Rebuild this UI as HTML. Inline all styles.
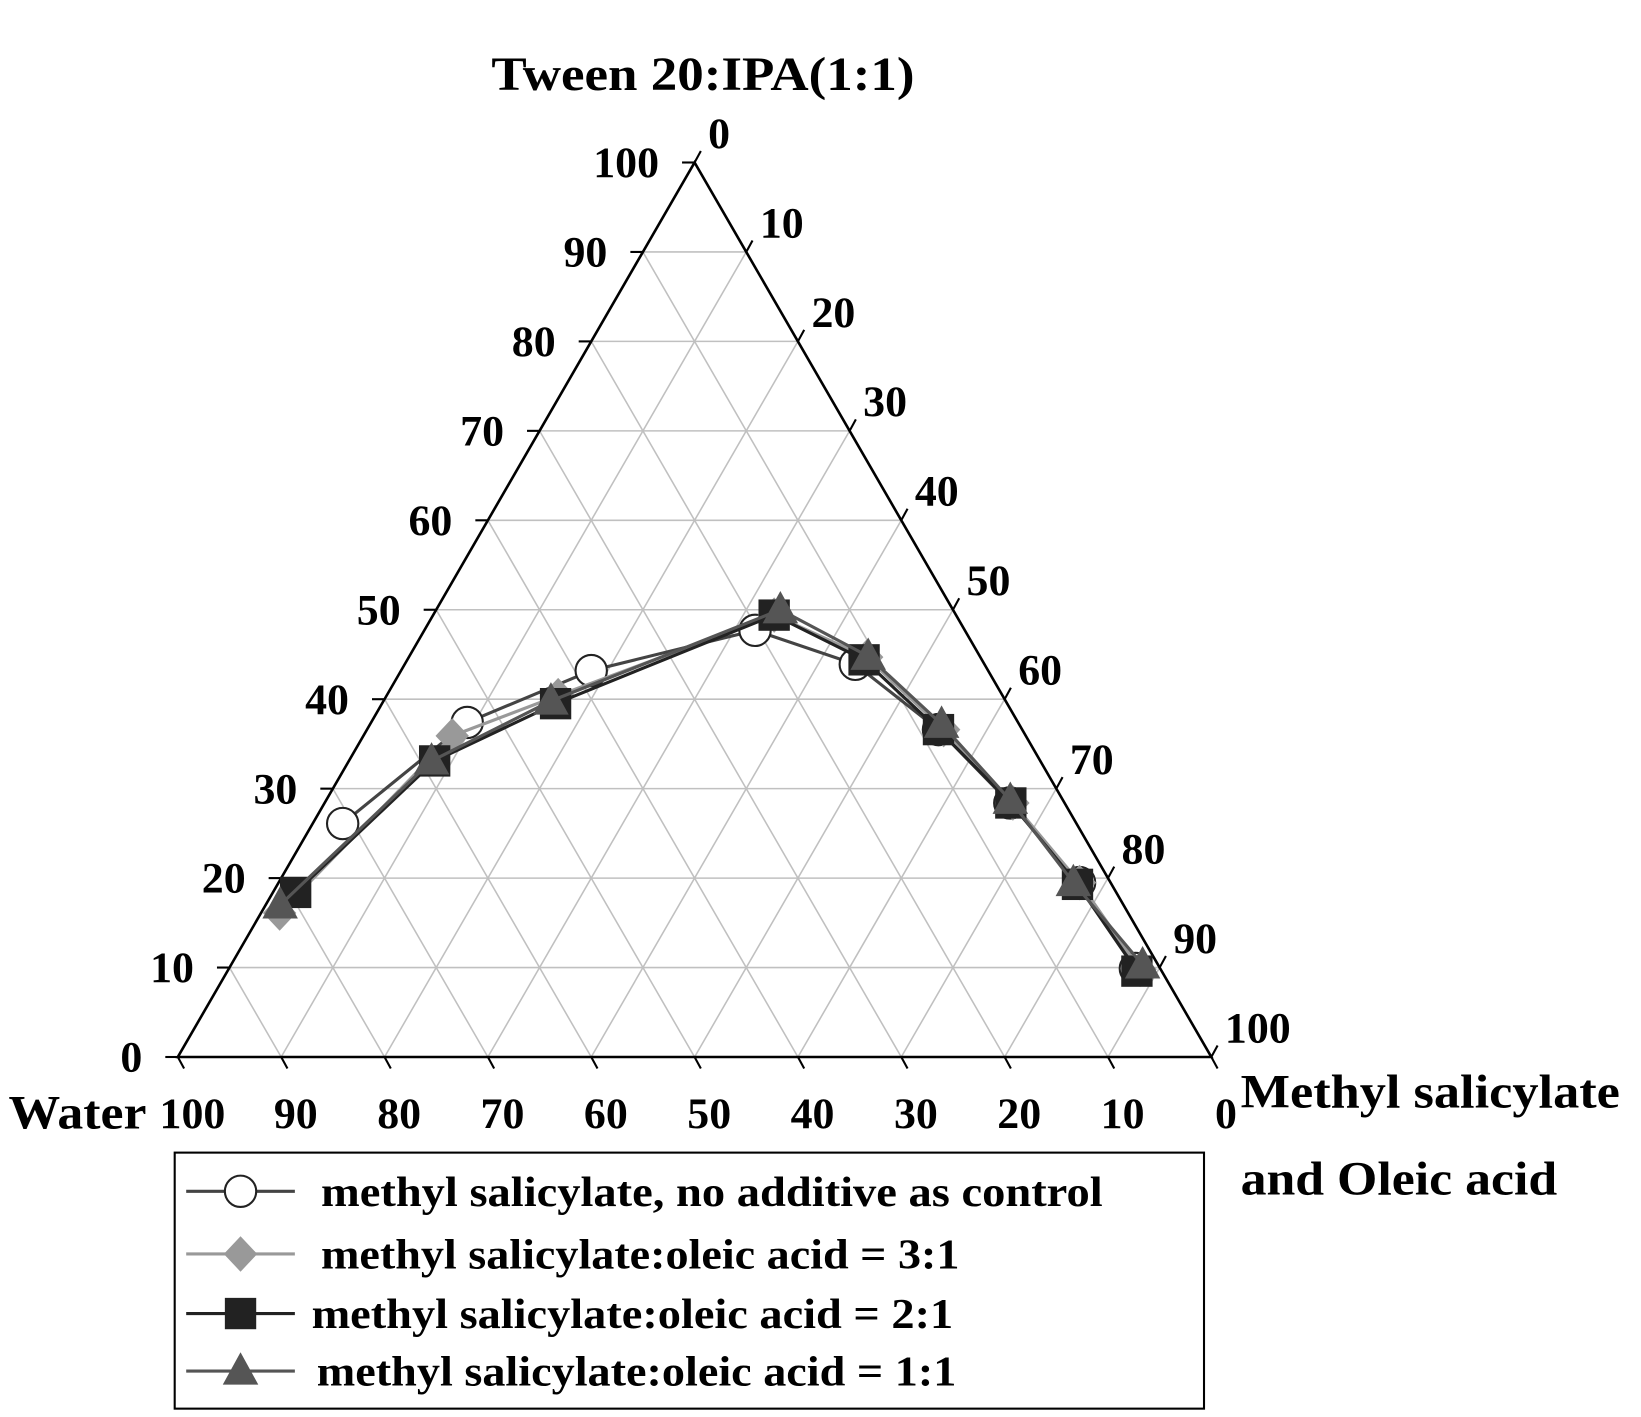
<!DOCTYPE html>
<html><head><meta charset="utf-8"><style>
html,body{margin:0;padding:0;background:#fff;}
svg{display:block;font-family:"Liberation Serif",serif;font-weight:bold;}
</style></head><body>
<svg id="chart" width="1641" height="1417" viewBox="0 0 1570 1356" xmlns="http://www.w3.org/2000/svg">
<g id="grid"></g>
<g id="axes"></g>
<g id="series"></g>
<text x="470" y="86" font-size="46" textLength="405" lengthAdjust="spacingAndGlyphs">Tween 20:IPA(1:1)</text>
<text x="8" y="1080" font-size="46" textLength="132" lengthAdjust="spacingAndGlyphs">Water</text>
<text x="1187" y="1060" font-size="46" textLength="363" lengthAdjust="spacingAndGlyphs">Methyl salicylate</text>
<text x="1187" y="1143" font-size="46" textLength="303" lengthAdjust="spacingAndGlyphs">and Oleic acid</text>
<g>
<rect x="167" y="1103" width="985" height="245" fill="#fff" stroke="#000" stroke-width="2"/>
<g id="legend-items"></g>
</g>
</svg>
<script>
const tweenTicks=[0,10,20,30,40,50,60,70,80,90,100];
const seriesNames=["methyl salicylate, no additive as control","methyl salicylate:oleic acid = 3:1","methyl salicylate:oleic acid = 2:1","methyl salicylate:oleic acid = 1:1"];
const controlTween=[26.1,37.4,43.2,47.7,43.9,36.6,28.4,19.5,9.9];
const controlMS=[2.9,9.3,18.4,32.0,43.6,55.3,66.3,77.5,87.7];
const ratio31Tween=[16.1,35.9,40.4,49.4,44.7,36.6,28.4,19.5,9.8];
const ratio31MS=[1.8,8.6,16.6,33.0,44.3,55.8,66.6,77.5,88.2];
const ratio21Tween=[18.4,33.1,39.5,49.4,44.4,36.6,28.4,19.3,9.6];
const ratio21MS=[2.2,8.3,16.8,33.0,44.2,55.3,66.4,77.4,88.0];
const ratio11Tween=[17.0,33.1,39.8,50.0,44.8,37.2,28.7,19.5,10.3];
const ratio11MS=[1.4,8.0,16.2,33.3,44.4,55.3,66.2,76.9,88.2];

const L=170,R=1159,B=1011.5,W=R-L,H=856;
const NS="http://www.w3.org/2000/svg";
function px(ms,tw){return L+(ms/100+tw/200)*W;}
function py(tw){return B-tw/100*H;}
function mk(tag,attrs,parent){const e=document.createElementNS(NS,tag);for(const k in attrs)e.setAttribute(k,attrs[k]);parent.appendChild(e);return e;}
const grid=document.getElementById('grid'),axes=document.getElementById('axes'),ser=document.getElementById('series');
tweenTicks.forEach(v=>{
  if(v===0||v===100)return;
  let l=mk('line',{x1:px(0,v),y1:py(v),x2:px(100-v,v),y2:py(v),stroke:'#c0c0c0','stroke-width':1.5},grid);
  
  
  let l2=mk('line',{x1:px(v,0),y1:py(0),x2:px(v,100-v),y2:py(100-v),stroke:'#c0c0c0','stroke-width':1.5},grid);
  
  
  let l3=mk('line',{x1:px(100-v,0),y1:py(0),x2:px(0,100-v),y2:py(100-v),stroke:'#c0c0c0','stroke-width':1.5},grid);
  
  
});
let tri=mk('polygon',{points:`${L},${B} ${R},${B} ${px(0,100)},${py(100)}`,fill:'none',stroke:'#000','stroke-width':2.5},axes);


const FS=42;
tweenTicks.forEach(v=>{
  let x=px(0,v),y=py(v);
  mk('line',{x1:x,y1:y,x2:x-12,y2:y,stroke:'#000','stroke-width':2},axes);
  let t=mk('text',{x:x-34,y:y+14,'font-size':FS,'text-anchor':'end'},axes);t.textContent=v;
  
  
  let x2=px(v,100-v),y2=py(100-v);
  mk('line',{x1:x2,y1:y2,x2:x2+6,y2:y2-11,stroke:'#000','stroke-width':2},axes);
  let t2=mk('text',{x:x2+13,y:y2-14,'font-size':FS},axes);t2.textContent=v;
  
  
  let x3=px(100-v,0);
  mk('line',{x1:x3,y1:B,x2:x3+6,y2:B+11,stroke:'#000','stroke-width':2},axes);
  let t3=mk('text',{x:x3+14,y:B+68,'font-size':FS,'text-anchor':'middle'},axes);t3.textContent=v;
  
  
});
const styles=[
 {line:'#444',marker:'circle',fill:'#fff',stroke:'#222'},
 {line:'#999',marker:'diamond',fill:'#999',stroke:'#999'},
 {line:'#222',marker:'square',fill:'#222',stroke:'#222'},
 {line:'#555',marker:'triangle',fill:'#555',stroke:'#555'}];
function marker(type,x,y,st,parent){
  let e;
  if(type==='circle')e=mk('circle',{cx:x,cy:y,r:15,fill:st.fill,stroke:st.stroke,'stroke-width':2},parent);
  else if(type==='diamond')e=mk('polygon',{points:`${x},${y-17} ${x+16},${y} ${x},${y+17} ${x-16},${y}`,fill:st.fill},parent);
  else if(type==='square')e=mk('rect',{x:x-15,y:y-15,width:30,height:30,fill:st.fill},parent);
  else e=mk('polygon',{points:`${x},${y-18} ${x+17},${y+13} ${x-17},${y+13}`,fill:st.fill},parent);
  return e;
}
const allT=[controlTween,ratio31Tween,ratio21Tween,ratio11Tween],allM=[controlMS,ratio31MS,ratio21MS,ratio11MS];
allT.forEach((ts,i)=>{
  const g=mk('g',{},ser);
  
  
  const pts=ts.map((tw,j)=>[px(allM[i][j],tw),py(tw)]);
  mk('polyline',{points:pts.map(p=>p.join(',')).join(' '),fill:'none',stroke:styles[i].line,'stroke-width':3},g);
  pts.forEach(p=>{const m=marker(styles[i].marker,p[0],p[1],styles[i],g);
    
    });
});
const li=document.getElementById('legend-items');
const ly=[1140,1200,1257,1312],tx=[307,307,298,303],tl=[748,611,614,612];
seriesNames.forEach((n,i)=>{
  const g=mk('g',{},li);
  
  
  mk('line',{x1:178,y1:ly[i],x2:282,y2:ly[i],stroke:styles[i].line,'stroke-width':3},g);
  marker(styles[i].marker,230,ly[i],styles[i],g);
  const t=mk('text',{x:tx[i],y:ly[i]+14,'font-size':40,textLength:tl[i],lengthAdjust:'spacingAndGlyphs'},g);t.textContent=n;
});
</script>
</body></html>
